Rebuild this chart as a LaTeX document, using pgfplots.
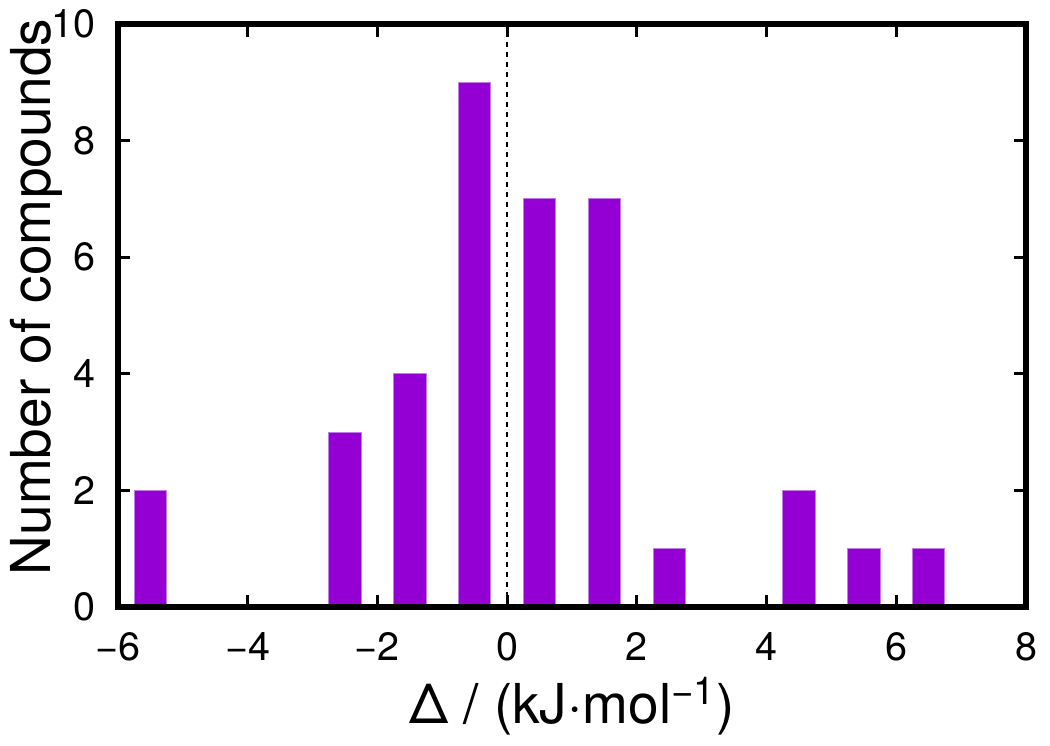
\documentclass[border=0pt]{standalone}
\usepackage{pgfplots}
\pgfplotsset{compat=1.18}
\usepackage{fontspec}
\setmainfont{TeX Gyre Heros}
\definecolor{darkviolet}{HTML}{9400D3}
\definecolor{violetedge}{HTML}{C27BEB}
\begin{document}
\begin{tikzpicture}
  % page size: 1050x745 px at 0.4pt per px, axis box SW corner at origin
  \path[use as bounding box] (-47.2pt,-55.2pt) rectangle (372.8pt,242.8pt);
  \begin{axis}[
      scale only axis,
      width=363.2pt, height=233.2pt,
      xmin=-6, xmax=8, ymin=0, ymax=10,
      axis on top,
      axis line style={line width=2.5pt},
      every tick/.style={black, line width=1.1pt},
      major tick length=5pt,
      tick align=inside,
      xtick={-6,-4,...,8},
      xticklabels={−6,−4,−2,0,2,4,6,8},
      ytick={0,2,...,10},
      yticklabels={0,2,4,6,8,10},
      ticklabel style={font=\fontsize{15.8}{18}\selectfont, inner sep=0pt},
      xticklabel style={yshift=-10pt},
      yticklabel style={xshift=-9pt},
      xlabel={Δ / (kJ·mol\textsuperscript{−1})},
      ylabel={Number of compounds},
      label style={font=\fontsize{22}{26}\selectfont, inner sep=0pt},
      xlabel style={at={(axis description cs:0.5,-0.199)}, anchor=base},
      ylabel style={at={(axis description cs:-0.119,0.532)}, anchor=north, rotate=0},
    ]
    \addplot[ybar, bar width=0.5, fill=darkviolet, draw=violetedge, line width=0.4pt]
      coordinates {
        (-5.5,2) (-2.5,3) (-1.5,4) (-0.5,9) (0.5,7)
        (1.5,7) (2.5,1) (4.5,2) (5.5,1) (6.5,1)
      };
    \addplot[black, line width=0.9pt, dash pattern=on 2pt off 2pt]
      coordinates {(0,0) (0,10)};
  \end{axis}
\end{tikzpicture}
\end{document}
